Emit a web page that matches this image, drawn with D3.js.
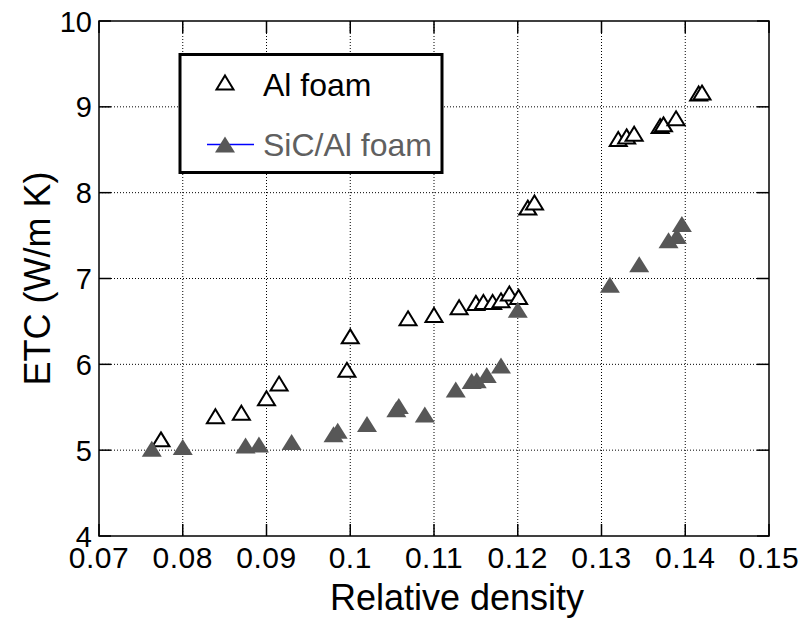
<!DOCTYPE html>
<html><head><meta charset="utf-8">
<script src="https://cdn.jsdelivr.net/npm/d3@7"></script>
<style>body{margin:0;background:#fff}svg{display:block}text{font-family:"Liberation Sans",Arial,sans-serif}</style>
</head><body>
<svg id="c" width="807" height="625"></svg>
<script>
const xTicks = [0.07,0.08,0.09,0.1,0.11,0.12,0.13,0.14,0.15];
const xTickLabels = ["0.07","0.08","0.09","0.1","0.11","0.12","0.13","0.14","0.15"];
const yTicks = [4,5,6,7,8,9,10];
const seriesNames = ["Al foam","SiC/Al foam"];
const alX = [0.0774,0.0839,0.0870,0.0900,0.0915,0.0996,0.1000,0.1069,0.1100,0.1130,0.1150,0.1159,0.1170,0.1180,0.1190,0.1201,0.1212,0.1220,0.1320,0.1330,0.1339,0.1370,0.1374,0.1389,0.1416,0.1420];
const alY = [5.12,5.39,5.43,5.60,5.77,5.93,6.32,6.53,6.57,6.66,6.71,6.72,6.72,6.74,6.82,6.78,7.82,7.88,8.62,8.65,8.68,8.77,8.79,8.86,9.15,9.16];
const sicX = [0.0763,0.0800,0.0875,0.0891,0.0930,0.0980,0.0985,0.1020,0.1055,0.1058,0.1089,0.1126,0.1145,0.1151,0.1163,0.1180,0.1200,0.1310,0.1345,0.1380,0.1390,0.1396];
const sicY = [5.01,5.03,5.05,5.06,5.09,5.18,5.22,5.30,5.47,5.51,5.41,5.70,5.80,5.81,5.87,5.98,6.63,6.92,7.16,7.44,7.49,7.63];

const L=99, T=21, W=670, H=515;
const svg = d3.select("#c");
const x = d3.scaleLinear().domain([0.07,0.15]).range([L,L+W]);
const y = d3.scaleLinear().domain([4,10]).range([T+H,T]);

const g = svg.append("g");
// grid
g.selectAll(".gx").data(xTicks.slice(1,-1)).join("line")
 .attr("x1",d=>x(d)).attr("x2",d=>x(d)).attr("y1",T).attr("y2",T+H)
 .attr("stroke","#000").attr("stroke-width",1).attr("stroke-dasharray","1,2");
g.selectAll(".gy").data(yTicks.slice(1,-1)).join("line")
 .attr("y1",d=>y(d)).attr("y2",d=>y(d)).attr("x1",L).attr("x2",L+W)
 .attr("stroke","#000").attr("stroke-width",1).attr("stroke-dasharray","1,2");

// ticks (inward, all four sides)
const tl=12;
xTicks.forEach(v=>{
  g.append("line").attr("x1",x(v)).attr("x2",x(v)).attr("y1",T+H).attr("y2",T+H-tl).attr("stroke","#000").attr("stroke-width",1.5);
  g.append("line").attr("x1",x(v)).attr("x2",x(v)).attr("y1",T).attr("y2",T+tl).attr("stroke","#000").attr("stroke-width",1.5);
});
yTicks.forEach(v=>{
  g.append("line").attr("y1",y(v)).attr("y2",y(v)).attr("x1",L).attr("x2",L+tl).attr("stroke","#000").attr("stroke-width",1.5);
  g.append("line").attr("y1",y(v)).attr("y2",y(v)).attr("x1",L+W).attr("x2",L+W-tl).attr("stroke","#000").attr("stroke-width",1.5);
});
g.append("rect").attr("x",L).attr("y",T).attr("width",W).attr("height",H)
 .attr("fill","none").attr("stroke","#000").attr("stroke-width",1.5);

// tick labels
g.selectAll(".xl").data(xTicks).join("text")
 .attr("x",d=>x(d)).attr("y",T+H+32).attr("text-anchor","middle")
 .attr("font-size",30).attr("letter-spacing","0.5px").text((d,i)=>xTickLabels[i]);
g.selectAll(".yl").data(yTicks).join("text")
 .attr("x",L-7).attr("y",d=>y(d)+10.5).attr("text-anchor","end")
 .attr("font-size",29).text(d=>d);

// axis titles
svg.append("text").attr("x",457).attr("y",610).attr("text-anchor","middle")
 .attr("font-size",36).text("Relative density");
svg.append("text").attr("transform","translate(50,"+(T+H/2)+") rotate(-90)")
 .attr("text-anchor","middle").attr("font-size",36).text("ETC (W/m K)");

// markers
const openTri = "M0,-7.5L8.5,6.5L-8.5,6.5Z";
const fillTri = "M0,-8.5L10,7.5L-10,7.5Z";
const al = alX.map((v,i)=>[v,alY[i]]);
const sic = sicX.map((v,i)=>[v,sicY[i]]);
g.selectAll(".al").data(al).join("path")
 .attr("transform",d=>`translate(${x(d[0])},${y(d[1])})`)
 .attr("d",openTri).attr("fill","#fff").attr("stroke","#000").attr("stroke-width",2);
g.selectAll(".sic").data(sic).join("path")
 .attr("transform",d=>`translate(${x(d[0])},${y(d[1])})`)
 .attr("d",fillTri).attr("fill","#575757");

// legend
const lg = svg.append("g");
lg.append("rect").attr("x",180).attr("y",54.5).attr("width",262).attr("height",118)
 .attr("fill","#fff").attr("stroke","#000").attr("stroke-width",3);
lg.append("path").attr("transform","translate(225,83)").attr("d",openTri)
 .attr("fill","#fff").attr("stroke","#000").attr("stroke-width",2);
lg.append("text").attr("x",263).attr("y",96).attr("font-size",32).attr("fill","#000").text(seriesNames[0]);
lg.append("line").attr("x1",207).attr("x2",254).attr("y1",144.5).attr("y2",144.5).attr("stroke","#0000ff").attr("stroke-width",1.5);
lg.append("path").attr("transform","translate(225,145)").attr("d",fillTri).attr("fill","#575757");
lg.append("text").attr("x",263).attr("y",156).attr("font-size",32).attr("fill","#606060").text(seriesNames[1]);
</script>
</body></html>
